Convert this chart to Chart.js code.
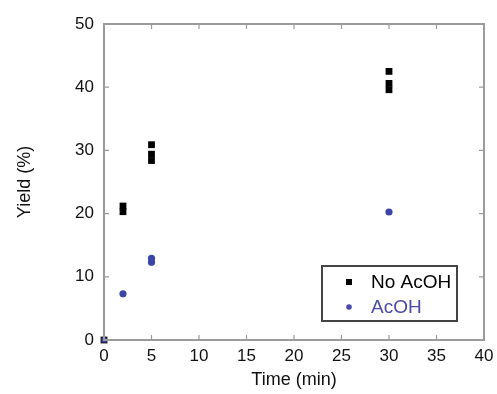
<!DOCTYPE html>
<html>
<head>
<meta charset="utf-8">
<script src="https://cdn.jsdelivr.net/npm/chart.js@4/dist/chart.umd.min.js"></script>
<style>
  html, body { margin: 0; padding: 0; background: #fff; }
  #wrap { width: 497px; height: 394px; }
</style>
</head>
<body>
<div id="wrap"><canvas id="yieldChart"></canvas></div>
<script>
// Yield vs time
const noAcohTime = [0, 2, 2, 5, 5, 5, 30, 30, 30];
const noAcohYield = [0, 21.2, 20.3, 30.9, 29.4, 28.4, 42.5, 40.6, 39.6];
const acohTime = [0, 2, 5, 5, 30];
const acohYield = [0, 7.3, 12.9, 12.3, 20.25];
const acohStyles = ['rect', 'circle', 'circle', 'circle', 'circle'];

const xTicks = [0, 5, 10, 15, 20, 25, 30, 35, 40];
const yTicks = [0, 10, 20, 30, 40, 50];

const axisGray = '#9b9b9b';
const blue = '#3b45a6';
const fontFamily = '"Liberation Sans", Arial, Helvetica, sans-serif';

const toPoints = (xs, ys) => xs.map((x, i) => ({ x: x, y: ys[i] }));

// frame round the plot with short inward ticks on all four sides
const framePlugin = {
    id: 'frame',
    afterDatasetsDraw(chart) {
        const { ctx, chartArea: a, scales } = chart;
        ctx.save();
        ctx.strokeStyle = axisGray;
        ctx.lineWidth = 2;
        ctx.strokeRect(a.left, a.top, a.right - a.left, a.bottom - a.top);
        ctx.lineWidth = 1.2;
        ctx.beginPath();
        xTicks.forEach(v => {
            const px = scales.x.getPixelForValue(v);
            ctx.moveTo(px, a.bottom); ctx.lineTo(px, a.bottom - 5);
            ctx.moveTo(px, a.top); ctx.lineTo(px, a.top + 5);
        });
        yTicks.forEach(v => {
            const py = scales.y.getPixelForValue(v);
            ctx.moveTo(a.left, py); ctx.lineTo(a.left + 5, py);
            ctx.moveTo(a.right, py); ctx.lineTo(a.right - 5, py);
        });
        ctx.stroke();
        ctx.restore();
    }
};

// boxed legend in the lower right corner of the plot
const boxLegend = {
    id: 'boxLegend',
    afterDraw(chart) {
        const { ctx, chartArea: a } = chart;
        const left = a.right - 162, top = a.bottom - 74;
        const w = 135, h = 55;
        ctx.save();
        ctx.fillStyle = '#fff';
        ctx.fillRect(left, top, w, h);
        ctx.strokeStyle = '#444';
        ctx.lineWidth = 2;
        ctx.strokeRect(left, top, w, h);
        ctx.font = '19px ' + fontFamily;
        ctx.textBaseline = 'middle';
        const rows = [
            { label: chart.data.datasets[0].label, color: '#000', shape: 'rect', y: top + 16 },
            { label: chart.data.datasets[1].label, color: '#4a4aa8', shape: 'circle', y: top + 41 }
        ];
        rows.forEach(r => {
            ctx.fillStyle = r.color;
            if (r.shape === 'rect') {
                ctx.fillRect(left + 24, r.y - 3, 6, 6);
            } else {
                ctx.beginPath();
                ctx.arc(left + 27, r.y, 2.8, 0, Math.PI * 2);
                ctx.fill();
            }
            ctx.fillText(r.label, left + 49, r.y + 1);
        });
        ctx.restore();
    }
};

new Chart(document.getElementById('yieldChart'), {
    type: 'scatter',
    data: {
        datasets: [
            {
                label: 'No AcOH',
                data: toPoints(noAcohTime, noAcohYield),
                pointStyle: 'rect',
                pointRadius: 4.8,
                backgroundColor: '#000',
                borderColor: '#000',
                borderWidth: 0,
                clip: false,
                order: 2
            },
            {
                label: 'AcOH',
                data: toPoints(acohTime, acohYield),
                pointStyle: acohStyles,
                pointRadius: 3.6,
                backgroundColor: blue,
                borderColor: blue,
                borderWidth: 0,
                clip: false,
                order: 1
            }
        ]
    },
    options: {
        responsive: true,
        maintainAspectRatio: false,
        animation: false,
        layout: {
            padding: { left: 12, right: 13, top: 24, bottom: 2 }
        },
        plugins: {
            legend: { display: false },
            tooltip: { enabled: false }
        },
        scales: {
            x: {
                type: 'linear',
                min: 0,
                max: 40,
                afterBuildTicks: scale => { scale.ticks = xTicks.map(v => ({ value: v })); },
                afterFit: scale => {
                    scale.height = 52;
                    scale.paddingLeft = 0;
                    scale.paddingRight = 0;
                },
                grid: { display: false, drawTicks: false },
                border: { display: false },
                ticks: {
                    padding: 6,
                    color: '#111',
                    font: { family: fontFamily, size: 17 },
                    maxRotation: 0
                },
                title: {
                    display: true,
                    text: 'Time (min)',
                    color: '#111',
                    font: { family: fontFamily, size: 18 },
                    padding: { top: 2, bottom: 1 }
                }
            },
            y: {
                type: 'linear',
                min: 0,
                max: 50,
                afterBuildTicks: scale => { scale.ticks = yTicks.map(v => ({ value: v })); },
                afterFit: scale => {
                    scale.width = 92;
                    scale.paddingTop = 0;
                    scale.paddingBottom = 0;
                },
                grid: { display: false, drawTicks: false },
                border: { display: false },
                ticks: {
                    padding: 10,
                    color: '#111',
                    font: { family: fontFamily, size: 17 }
                },
                title: {
                    display: true,
                    text: 'Yield (%)',
                    color: '#111',
                    font: { family: fontFamily, size: 18 },
                    padding: { top: 2, bottom: 4 }
                }
            }
        }
    },
    plugins: [framePlugin, boxLegend]
});
</script>
</body>
</html>
